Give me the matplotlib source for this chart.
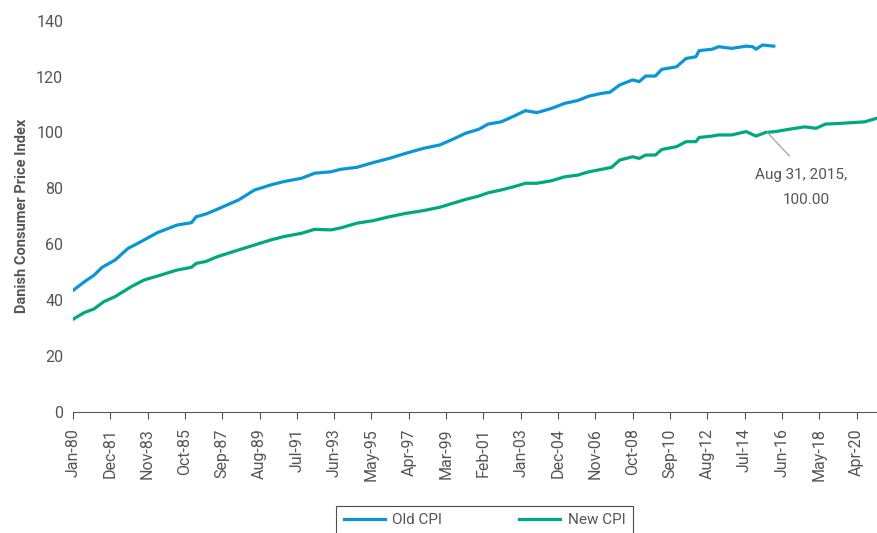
"""Danish CPI: old index vs rebased new index (2015 = 100)."""
import matplotlib
matplotlib.use("Agg")
import matplotlib.pyplot as plt
import matplotlib.dates as mdates
import pandas as pd

BLUE, GREEN, GREY = "#0a96d6", "#00a87e", "#555555"

old_dates = ["1980-01", "1980-08", "1981-02", "1981-07", "1982-03", "1982-11",
             "1983-07", "1984-05", "1985-05", "1986-02", "1986-05", "1986-11",
             "1987-06", "1988-07", "1989-05", "1990-03", "1990-11", "1991-10",
             "1992-06", "1993-04", "1993-10", "1994-08", "1995-06", "1996-04",
             "1997-02", "1998-01", "1998-11", "1999-07", "2000-03", "2000-11",
             "2001-05", "2002-01", "2002-09", "2003-04", "2003-11", "2004-08",
             "2005-04", "2005-12", "2006-07", "2007-03", "2007-08", "2008-02",
             "2008-10", "2009-02", "2009-06", "2009-12", "2010-04", "2011-01",
             "2011-07", "2012-01", "2012-03", "2012-11", "2013-03", "2013-11",
             "2014-08", "2014-12", "2015-02", "2015-06", "2016-01"]
old_cpi = [43.4, 46.5, 48.9, 51.7, 54.3, 58.5,
           60.9, 64.1, 66.8, 67.7, 69.8, 70.8,
           72.5, 75.8, 79.4, 81.2, 82.4, 83.6,
           85.4, 85.9, 86.8, 87.5, 89.2, 90.7,
           92.5, 94.3, 95.5, 97.5, 99.7, 101.1,
           103.0, 103.8, 105.9, 107.8, 107.1, 108.6,
           110.4, 111.4, 113.0, 114.0, 114.4, 117.0,
           118.8, 118.2, 120.2, 120.2, 122.6, 123.5,
           126.5, 127.1, 129.3, 129.8, 130.7, 130.1,
           130.9, 130.7, 129.8, 131.3, 130.9]

new_dates = ["1980-01", "1980-08", "1981-02", "1981-08", "1982-03", "1983-01",
             "1983-09", "1984-07", "1985-05", "1986-02", "1986-05", "1986-11",
             "1987-06", "1988-07", "1989-05", "1990-03", "1990-11", "1991-10",
             "1992-06", "1993-04", "1993-10", "1994-08", "1995-06", "1996-04",
             "1997-02", "1998-01", "1998-11", "1999-07", "2000-03", "2000-11",
             "2001-05", "2002-01", "2002-09", "2003-04", "2003-11", "2004-08",
             "2005-04", "2005-12", "2006-07", "2007-03", "2007-09", "2008-02",
             "2008-10", "2009-02", "2009-06", "2009-12", "2010-04", "2011-01",
             "2011-07", "2012-01", "2012-03", "2012-11", "2013-03", "2013-11",
             "2014-08", "2015-02", "2015-08", "2016-02", "2016-10", "2017-08",
             "2018-03", "2018-09", "2019-05", "2020-01", "2020-09", "2021-04"]
new_cpi = [33.1, 35.5, 36.8, 39.4, 41.2, 44.8,
           47.2, 48.9, 50.7, 51.7, 53.1, 53.8,
           55.5, 57.9, 59.7, 61.5, 62.7, 63.9,
           65.3, 65.1, 65.8, 67.5, 68.4, 69.8,
           71.0, 72.0, 73.2, 74.6, 76.0, 77.2,
           78.4, 79.4, 80.6, 81.8, 81.8, 82.7,
           84.1, 84.7, 85.9, 86.8, 87.5, 90.1,
           91.3, 90.7, 91.9, 91.9, 93.9, 94.9,
           96.7, 96.7, 98.2, 98.7, 99.1, 99.1,
           100.3, 98.7, 100.0, 100.3, 101.1, 102.0,
           101.5, 103.0, 103.2, 103.5, 103.8, 105.0]

tick_start, tick_step, n_ticks = "1980-01", 23, 22

plt.rcParams["font.family"] = ["Roboto", "DejaVu Sans"]

old = pd.Series(old_cpi, index=pd.to_datetime(old_dates))
new = pd.Series(new_cpi, index=pd.to_datetime(new_dates))

fig = plt.figure(figsize=(8.77, 5.33), dpi=100)
ax = fig.add_axes([0.0832, 0.2276, 0.9168, 0.7335])

ax.plot(old.index, old.values, color=BLUE, lw=2.3, label="Old CPI")
ax.plot(new.index, new.values, color=GREEN, lw=2.3, label="New CPI")

ticks = pd.date_range(tick_start, periods=n_ticks, freq=f"{tick_step}MS")
ax.set_xticks(ticks)
ax.xaxis.set_major_formatter(mdates.DateFormatter("%b-%y"))
ax.set_xlim(pd.Timestamp("1980-01-01"), pd.Timestamp("2021-04-20"))
ax.set_ylim(0, 140)
ax.set_yticks(range(0, 141, 20))

for s in ("top", "right", "left"):
    ax.spines[s].set_visible(False)
ax.spines["bottom"].set_color(GREY)
ax.tick_params(axis="x", colors=GREY, labelsize=11.5, rotation=90, length=5,
               labelcolor=GREY, pad=7)
ax.tick_params(axis="y", length=0, labelsize=11.5, labelcolor=GREY, pad=7)

ax.set_ylabel("Danish Consumer Price Index", fontsize=10.5, fontweight="bold",
              color=GREY, labelpad=5)

# callout on the rebasing point
pt = (pd.Timestamp("2015-08-31"), 100.0)
ax.annotate("", xy=pt, xytext=(16, -17), textcoords="offset points",
            arrowprops=dict(arrowstyle="-", color="#aaaaaa", lw=1,
                            shrinkA=0, shrinkB=0))
ax.annotate("Aug 31, 2015,", xy=pt, xytext=(24, -31), textcoords="offset points",
            ha="center", va="center", fontsize=11, color=GREY)
ax.annotate("100.00", xy=pt, xytext=(28, -49), textcoords="offset points",
            ha="center", va="center", fontsize=11, color=GREY)

leg = fig.legend(loc="upper center", bbox_to_anchor=(0.5525, 0.051), ncol=2,
                 fontsize=11, frameon=True, fancybox=False, handlelength=2.7,
                 columnspacing=5.0, borderpad=0.5, handletextpad=0.5,
                 borderaxespad=0)
leg.get_frame().set_edgecolor("#222222")
leg.get_frame().set_linewidth(0.8)
for t in leg.get_texts():
    t.set_color(GREY)

fig.savefig("out.png", dpi=100)
